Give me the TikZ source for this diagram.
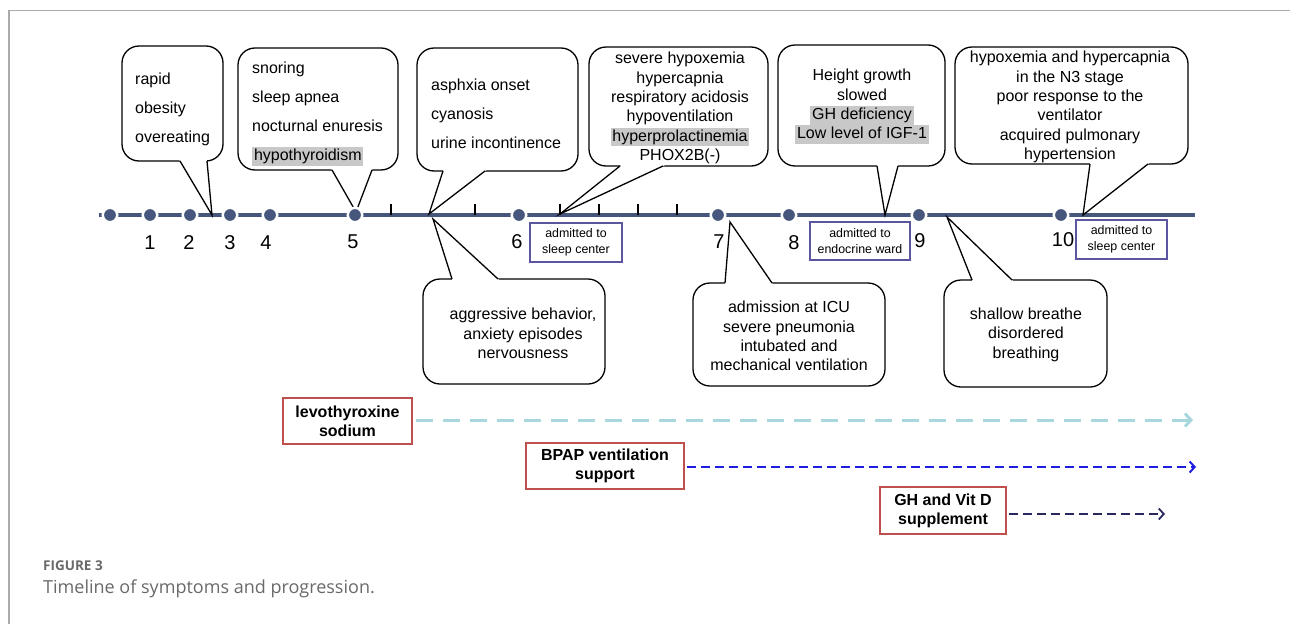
\documentclass[tikz,border=0pt]{standalone}
\usepackage{fontspec}
\setmainfont{Liberation Sans}
\newfontfamily\capfont{Open Sans}
\usetikzlibrary{arrows.meta,calc}
\definecolor{tlblue}{RGB}{70,86,124}
\definecolor{admblue}{RGB}{92,86,160}
\definecolor{drugred}{RGB}{192,80,77}
\definecolor{levocol}{RGB}{168,216,222}
\definecolor{bpapcol}{RGB}{30,30,225}
\definecolor{ghcol}{RGB}{40,40,92}
\definecolor{hlgray}{RGB}{200,200,200}
\definecolor{framegray}{RGB}{170,170,170}
\definecolor{capgray}{RGB}{105,105,105}
\newcommand{\hl}[1]{{\setlength{\fboxsep}{1.8pt}\colorbox{hlgray}{\vphantom{Hy}#1}}}
\newcommand{\calltail}[3]{%
  \fill[white] ($(#1)!-0.08!(#3)$) -- ($(#1)!0.3!(#3)$) -- ($(#2)!0.3!(#3)$) -- ($(#2)!-0.08!(#3)$) -- cycle;
  \draw[tail] (#1) -- (#3) -- (#2);}
\begin{document}
\begin{tikzpicture}[x=1pt,y=-1pt,
  tl/.style={draw=tlblue,line width=4.5pt},
  tdot/.style={circle,fill=tlblue,draw=white,line width=2.5pt,minimum size=14.5pt,inner sep=0pt},
  tickmark/.style={draw=black,line width=1.1pt},
  num/.style={font=\fontsize{20}{22}\selectfont,inner sep=0pt},
  cbox/.style={draw=black,line width=1.3pt,fill=white,rounded corners=17pt,inner sep=0pt},
  ctxt/.style={font=\fontsize{16}{19.4}\selectfont,align=center,inner sep=0pt},
  ltxt/.style={font=\fontsize{16}{29}\selectfont,align=left,inner sep=0pt,anchor=west},
  tail/.style={draw=black,line width=1.3pt,line join=miter},
  adm/.style={draw=admblue,line width=1.2pt,font=\fontsize{12.4}{16}\selectfont,align=center,inner sep=0pt},
  drug/.style={draw=drugred,line width=1.3pt,font=\bfseries\fontsize{16}{19}\selectfont,align=center,inner sep=0pt},
  levo/.style={draw=levocol,line width=3pt,dash pattern=on 17pt off 10pt,-{Straight Barb[length=6pt,width=13pt]}},
  bpap/.style={draw=bpapcol,line width=2pt,dash pattern=on 9pt off 5pt,-{Straight Barb[length=5pt,width=11pt]}},
  ghs/.style={draw=ghcol,line width=1.8pt,dash pattern=on 9pt off 5pt,-{Straight Barb[length=5pt,width=11pt]}}
]
\useasboundingbox (0,0) rectangle (1290,624);
% frame
\coordinate (fA) at (9,624);
\coordinate (fB) at (9,10.5);
\coordinate (fC) at (1290,10.5);
\draw[framegray,line width=1.5pt] (fA) -- (fB) -- (fC);
% timeline
\coordinate (tlS) at (99,215);
\coordinate (tlE) at (1195,215);
\draw[tl] (tlS) -- (tlE);
\foreach \x in {391,475,560,599,638,677} \draw[tickmark] (\x,204) -- (\x,215);
% tail tips
\coordinate (t1) at (212,215);
\coordinate (t2) at (356,212);
\coordinate (t3) at (429,214);
\coordinate (t4) at (560,214);
\coordinate (t5) at (885,215);
\coordinate (t6) at (1083,215);
\coordinate (t7) at (433,219);
\coordinate (t8) at (730,222);
\coordinate (t9) at (947,217);
% callout boxes
\node[cbox,minimum width=101pt,minimum height=115pt] (c1) at (172.5,103.5) {};
\node[cbox,minimum width=160pt,minimum height=122pt] (c2) at (318,109) {};
\node[cbox,minimum width=161pt,minimum height=123pt] (c3) at (497.5,109.5) {};
\node[cbox,minimum width=179pt,minimum height=119pt] (c4) at (678.5,106.5) {};
\node[cbox,minimum width=167pt,minimum height=121pt] (c5) at (861.5,105.5) {};
\node[cbox,minimum width=233pt,minimum height=117pt] (c6) at (1071.5,105.5) {};
\node[cbox,minimum width=182pt,minimum height=105pt] (c7) at (514,331.5) {};
\node[cbox,minimum width=192pt,minimum height=103pt] (c8) at (789,334.5) {};
\node[cbox,minimum width=163pt,minimum height=107pt] (c9) at (1025.5,333.5) {};
% tails
\calltail{180,161}{207,161}{t1}
\calltail{332,170}{372,170}{t2}
\calltail{443,171}{485,171}{t3}
\calltail{620,166}{663,166}{t4}
\calltail{877,166}{898,166}{t5}
\calltail{1090,164}{1148,164}{t6}
\calltail{452,279}{498,279}{t7}
\calltail{725,283}{772,283}{t8}
\calltail{972,280}{1012,280}{t9}
% callout texts
\node[ltxt] (c1t) at (135,109) {rapid\\obesity\\overeating};
\node[ltxt] (c2t) at (252,114) {snoring\\sleep apnea\\nocturnal enuresis\\\hl{hypothyroidism}};
\node[ltxt] (c3t) at (431,113.5) {asphxia onset\\cyanosis\\urine incontinence};
\node[ctxt] (c4t) at (680,108) {severe hypoxemia\\hypercapnia\\respiratory acidosis\\hypoventilation\\\hl{hyperprolactinemia}\\PHOX2B(-)};
\node[ctxt] (c5t) at (862,106.5) {Height growth\\slowed\\\hl{GH deficiency}\\\hl{Low level of IGF-1}};
\node[ctxt] (c6t) at (1070,107) {hypoxemia and hypercapnia\\in the N3 stage\\poor response to the\\ventilator\\acquired pulmonary\\hypertension};
\node[ctxt] (c7t) at (523,333.5) {aggressive behavior,\\anxiety episodes\\nervousness};
\node[ctxt] (c8t) at (789,336) {admission at ICU\\severe pneumonia\\intubated and\\mechanical ventilation};
\node[ctxt] (c9t) at (1026,334.5) {shallow breathe\\disordered\\breathing};
% dots
\foreach \x [count=\i] in {110,150,190,230,270,355,519,718,789,919,1061}
  \node[tdot] (d\i) at (\x,215) {};
% numbers
\node[num] (n1) at (150,243) {1};
\node[num] (n2) at (189,243) {2};
\node[num] (n3) at (230,243) {3};
\node[num] (n4) at (266,243) {4};
\node[num] (n5) at (353,242) {5};
\node[num] (n6) at (517,242) {6};
\node[num] (n7) at (719,242) {7};
\node[num] (n8) at (794,243) {8};
\node[num] (n9) at (920,241) {9};
\node[num] (n10) at (1063,240) {10};
% admitted boxes
\node[adm,minimum width=92pt,minimum height=39pt] (a1) at (576,242.5) {admitted to\\sleep center};
\node[adm,minimum width=100pt,minimum height=38pt] (a2) at (860,241) {admitted to\\endocrine ward};
\node[adm,minimum width=91pt,minimum height=39pt] (a3) at (1121.5,239.5) {admitted to\\sleep center};
% treatments
\node[drug,minimum width=129pt,minimum height=46pt] (dr1) at (347.5,421) {levothyroxine\\sodium};
\node[drug,minimum width=158pt,minimum height=46pt] (dr2) at (605,466) {BPAP ventilation\\support};
\node[drug,minimum width=126pt,minimum height=47pt] (dr3) at (943,510.5) {GH and Vit D\\supplement};
\coordinate (e1) at (1193,420);
\coordinate (e2) at (1196,467);
\coordinate (e3) at (1165,514);
\draw[levo,shorten <=3pt] (dr1.east |- e1) -- (e1);
\draw[bpap,shorten <=2pt] (dr2.east |- e2) -- (e2);
\draw[ghs,shorten <=2pt] (dr3.east |- e3) -- (e3);
% caption
\node[anchor=west,inner sep=0pt,text=capgray,font=\capfont\bfseries\fontsize{13.5}{15}\selectfont] (fig) at (43,566) {FIGURE 3};
\node[anchor=west,inner sep=0pt,text=capgray,font=\capfont\fontsize{18}{20}\selectfont] (cap) at (43,589) {Timeline of symptoms and progression.};
\end{tikzpicture}
\end{document}
